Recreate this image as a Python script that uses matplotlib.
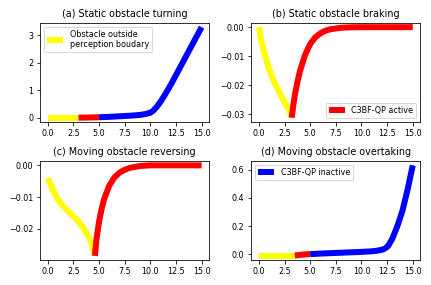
import matplotlib
matplotlib.use('Agg')
import matplotlib.pyplot as plt

# (a) Static obstacle turning
a_yellow_t = [0.0, 1.0, 2.0, 3.0]
a_yellow_v = [0.0, 0.0, 0.0, 0.0]
a_red_t = [3.0, 4.0, 5.0]
a_red_v = [0.0, 0.005, 0.015]
a_blue_t = [5.0, 6.0, 7.0, 8.0, 9.0, 9.5, 10.0, 10.3, 10.6, 11.0, 11.5, 12.0, 13.0, 14.0, 15.0]
a_blue_v = [0.015, 0.03, 0.05, 0.07, 0.1, 0.13, 0.18, 0.26, 0.38, 0.58, 0.88, 1.2, 1.9, 2.6, 3.3]

# (b) Static obstacle braking
b_yellow_t = [0.0, 0.25, 0.5, 1.0, 1.5, 2.0, 2.5, 3.0, 3.2]
b_yellow_v = [0.0, -0.005, -0.0085, -0.0145, -0.019, -0.0225, -0.0258, -0.029, -0.0312]
b_red_t = [3.2, 3.35, 3.5, 3.75, 4.0, 4.5, 5.0, 5.5, 6.0, 6.5, 7.0, 8.0, 9.0, 10.0, 12.0, 15.0]
b_red_v = [-0.0312, -0.027, -0.0235, -0.019, -0.0152, -0.0096, -0.0058, -0.0035, -0.0021, -0.0012, -0.0007, -0.0002, -0.00005, 0.0, 0.0, 0.0]

# (c) Moving obstacle reversing
c_yellow_t = [0.0, 0.25, 0.5, 1.0, 1.5, 2.0, 2.5, 3.0, 3.5, 4.0, 4.3, 4.6]
c_yellow_v = [-0.004, -0.0058, -0.0078, -0.0108, -0.0128, -0.0145, -0.016, -0.0177, -0.0198, -0.0225, -0.0248, -0.0285]
c_red_t = [4.6, 4.75, 5.0, 5.25, 5.5, 6.0, 6.5, 7.0, 7.5, 8.0, 9.0, 10.0, 12.0, 15.0]
c_red_v = [-0.0285, -0.0235, -0.0178, -0.0138, -0.0106, -0.0064, -0.0038, -0.0023, -0.0014, -0.0008, -0.0002, 0.0, 0.0, 0.0]

# (d) Moving obstacle overtaking
d_yellow_t = [0.0, 1.0, 2.0, 3.0, 3.5]
d_yellow_v = [-0.01, -0.01, -0.01, -0.01, -0.01]
d_red_t = [3.5, 4.0, 4.5, 5.0]
d_red_v = [-0.008, -0.003, 0.0, 0.002]
d_blue_t = [5.0, 6.0, 7.0, 8.0, 9.0, 10.0, 11.0, 11.5, 12.0, 12.3, 12.6, 13.0, 13.5, 14.0, 14.5, 15.0]
d_blue_v = [0.002, 0.006, 0.009, 0.012, 0.015, 0.018, 0.022, 0.026, 0.033, 0.042, 0.06, 0.11, 0.2, 0.31, 0.46, 0.63]

LW = 6
XT = [0, 2.5, 5, 7.5, 10, 12.5, 15]

plt.rcParams['font.size'] = 8
plt.rcParams['axes.titlesize'] = 9.6
plt.rcParams['legend.fontsize'] = 8
plt.rcParams['lines.solid_capstyle'] = 'butt'

fig, axs = plt.subplots(2, 2, figsize=(431 / 72, 285 / 72), dpi=72)

ax = axs[0, 0]
ax.plot(a_yellow_t, a_yellow_v, color='yellow', lw=LW, label='Obstacle outside\nperception boudary')
ax.plot(a_red_t, a_red_v, color='red', lw=LW)
ax.plot(a_blue_t, a_blue_v, color='blue', lw=LW)
ax.set_title('(a) Static obstacle turning')
ax.set_xticks(XT)
ax.legend(loc='upper left')

ax = axs[0, 1]
ax.plot(b_yellow_t, b_yellow_v, color='yellow', lw=LW)
ax.plot(b_red_t, b_red_v, color='red', lw=LW, label='C3BF-QP active')
ax.set_title('(b) Static obstacle braking')
ax.set_xticks(XT)
ax.legend(loc='lower right')

ax = axs[1, 0]
ax.plot(c_yellow_t, c_yellow_v, color='yellow', lw=LW)
ax.plot(c_red_t, c_red_v, color='red', lw=LW)
ax.set_title('(c) Moving obstacle reversing')
ax.set_xticks(XT)
ax.set_yticks([0, -0.01, -0.02])

ax = axs[1, 1]
ax.plot(d_yellow_t, d_yellow_v, color='yellow', lw=LW)
ax.plot(d_red_t, d_red_v, color='red', lw=LW)
ax.plot(d_blue_t, d_blue_v, color='blue', lw=LW, label='C3BF-QP inactive')
ax.set_title('(d) Moving obstacle overtaking')
ax.set_xticks(XT)
ax.legend(loc='upper left')

fig.tight_layout()
fig.savefig('out.png', dpi=72)
